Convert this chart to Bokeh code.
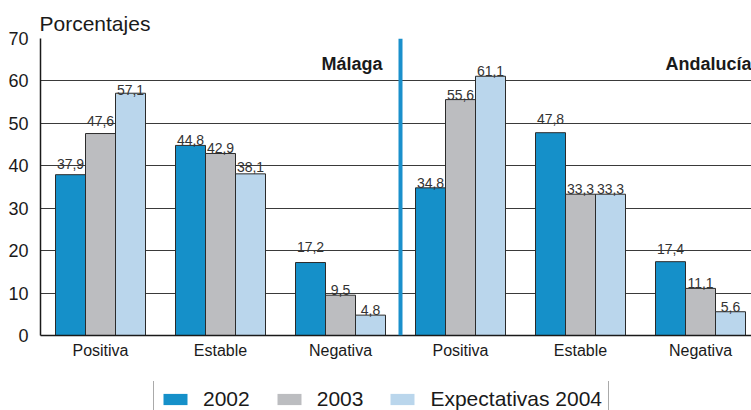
from bokeh.plotting import figure
from bokeh.layouts import column
from bokeh.models import Range1d, FixedTicker, Legend, LegendItem, Span, Label, ColumnDataSource
from bokeh.embed import file_html
from bokeh.resources import INLINE

# ---- data ----
regions = ["Málaga", "Andalucía"]
categories = ["Positiva", "Estable", "Negativa"]
series_names = ["2002", "2003", "Expectativas 2004"]
values_2002 = [37.9, 44.8, 17.2, 34.8, 47.8, 17.4]
values_2003 = [47.6, 42.9, 9.5, 55.6, 33.3, 11.1]
values_2004 = [57.1, 38.1, 4.8, 61.1, 33.3, 5.6]
y_ticks = [0, 10, 20, 30, 40, 50, 60, 70]
y_title = "Porcentajes"

# ---- styles ----
colors = ["#1590c9", "#bcbdc0", "#bad6ec"]
label_lift = [[11, 5, 16, 5, 14, 13], [13, 5, 5, 5, 5, 5], [3, 7, 5, 5, 5, 5]]
FONT = "Liberation Sans"
bar_w = 0.25
x_min, x_max = -0.5, 5.425
W = 751
H_MAIN = 381
H_LEG = 29

n_cat = len(categories)
n_groups = n_cat * len(regions)
centers = list(range(n_groups))
tick_labels = {c: categories[c % n_cat] for c in centers}
series_values = [values_2002, values_2003, values_2004]
offsets = [-bar_w, 0, bar_w]

p = figure(width=W, height=H_MAIN, x_range=Range1d(x_min, x_max), y_range=Range1d(0, 70),
           output_backend="svg", toolbar_location=None, title=y_title,
           min_border_left=40, min_border_right=0, min_border_top=38, min_border_bottom=46)
p.outline_line_color = None
p.background_fill_color = "white"
p.border_fill_color = "white"

p.title.align = "left"
p.title.text_font = FONT
p.title.text_font_size = "21px"
p.title.text_font_style = "normal"
p.title.text_color = "#1a1a1a"
p.title.standoff = 8
p.title.offset = -1

p.xgrid.visible = False
p.ygrid.ticker = FixedTicker(ticks=y_ticks)
p.ygrid.grid_line_color = "#3a3a3a"
p.ygrid.grid_line_width = 1

p.yaxis.ticker = FixedTicker(ticks=y_ticks)
p.yaxis.major_tick_out = 0
p.yaxis.major_tick_in = 0
p.yaxis.minor_tick_out = 0
p.yaxis.minor_tick_in = 0
p.yaxis.major_label_standoff = 12
p.yaxis.major_label_text_font = FONT
p.yaxis.major_label_text_font_size = "18px"
p.yaxis.major_label_text_color = "#1a1a1a"
p.yaxis.axis_line_color = "#1a1a1a"
p.yaxis.axis_line_width = 1.5

p.xaxis.ticker = FixedTicker(ticks=centers)
p.xaxis.major_label_overrides = tick_labels
p.xaxis.major_tick_out = 0
p.xaxis.major_tick_in = 0
p.xaxis.minor_tick_out = 0
p.xaxis.minor_tick_in = 0
p.xaxis.major_label_standoff = 6
p.xaxis.major_label_text_font = FONT
p.xaxis.major_label_text_font_size = "16px"
p.xaxis.major_label_text_color = "#1a1a1a"
p.xaxis.axis_line_color = "#1a1a1a"
p.xaxis.axis_line_width = 1.5

sources = []
for s, vals in enumerate(series_values):
    xs = [c + offsets[s] for c in centers]
    src = ColumnDataSource(dict(
        x=xs, top=vals,
        lab=[f"{v:.1f}".replace(".", ",") for v in vals],
        lift=[-l for l in label_lift[s]],
    ))
    sources.append(src)
    p.vbar(x="x", top="top", width=bar_w, source=src, fill_color=colors[s],
           line_color="#2b2b2b", line_width=1)
    p.text(x="x", y="top", text="lab", y_offset="lift", source=src,
           text_align="center", text_baseline="alphabetic",
           text_font_size="14px", text_color="#333333", text_font={"value": FONT})

# divider between regions
p.add_layout(Span(location=n_cat - 0.5, dimension="height", line_color="#1a90cc", line_width=4))

# region titles
region_x = [n_cat - 0.5 - 0.15, x_max]
for name, rx in zip(regions, region_x):
    p.add_layout(Label(x=rx, y=64.1, text=name, text_align="right", text_baseline="alphabetic",
                       text_font=FONT, text_font_size="18px", text_font_style="bold",
                       text_color="#1a1a1a"))

# ---- legend strip (cut at the bottom edge like the reference) ----
# its y-range lies above all bar tops, so the legend's source bars stay out of view
pl = figure(width=W, height=H_LEG, x_range=Range1d(x_min, x_max), y_range=Range1d(100, 200),
            output_backend="svg", toolbar_location=None,
            x_axis_type=None, y_axis_type=None,
            min_border_left=40, min_border_right=0, min_border_top=0, min_border_bottom=0)
pl.outline_line_color = None
pl.xgrid.visible = False
pl.ygrid.visible = False
pl.background_fill_color = "white"
pl.border_fill_color = "white"

legend_items = []
for s, name in enumerate(series_names):
    r = pl.vbar(x="x", top="top", width=bar_w, source=sources[s],
                fill_color=colors[s], line_color=None)
    legend_items.append(LegendItem(label=name, renderers=[r]))

legend = Legend(items=legend_items, orientation="horizontal", location=(113, -8),
                glyph_width=30, glyph_height=14, label_standoff=13, spacing=24, padding=6,
                margin=0, border_line_color="#555555", border_line_width=1,
                label_text_font=FONT, label_text_font_size="21px", label_text_color="#1a1a1a",
                background_fill_color="white", background_fill_alpha=1)
pl.add_layout(legend, "center")

layout = column(p, pl, spacing=0)
open("out.html", "w").write(file_html(layout, INLINE))
